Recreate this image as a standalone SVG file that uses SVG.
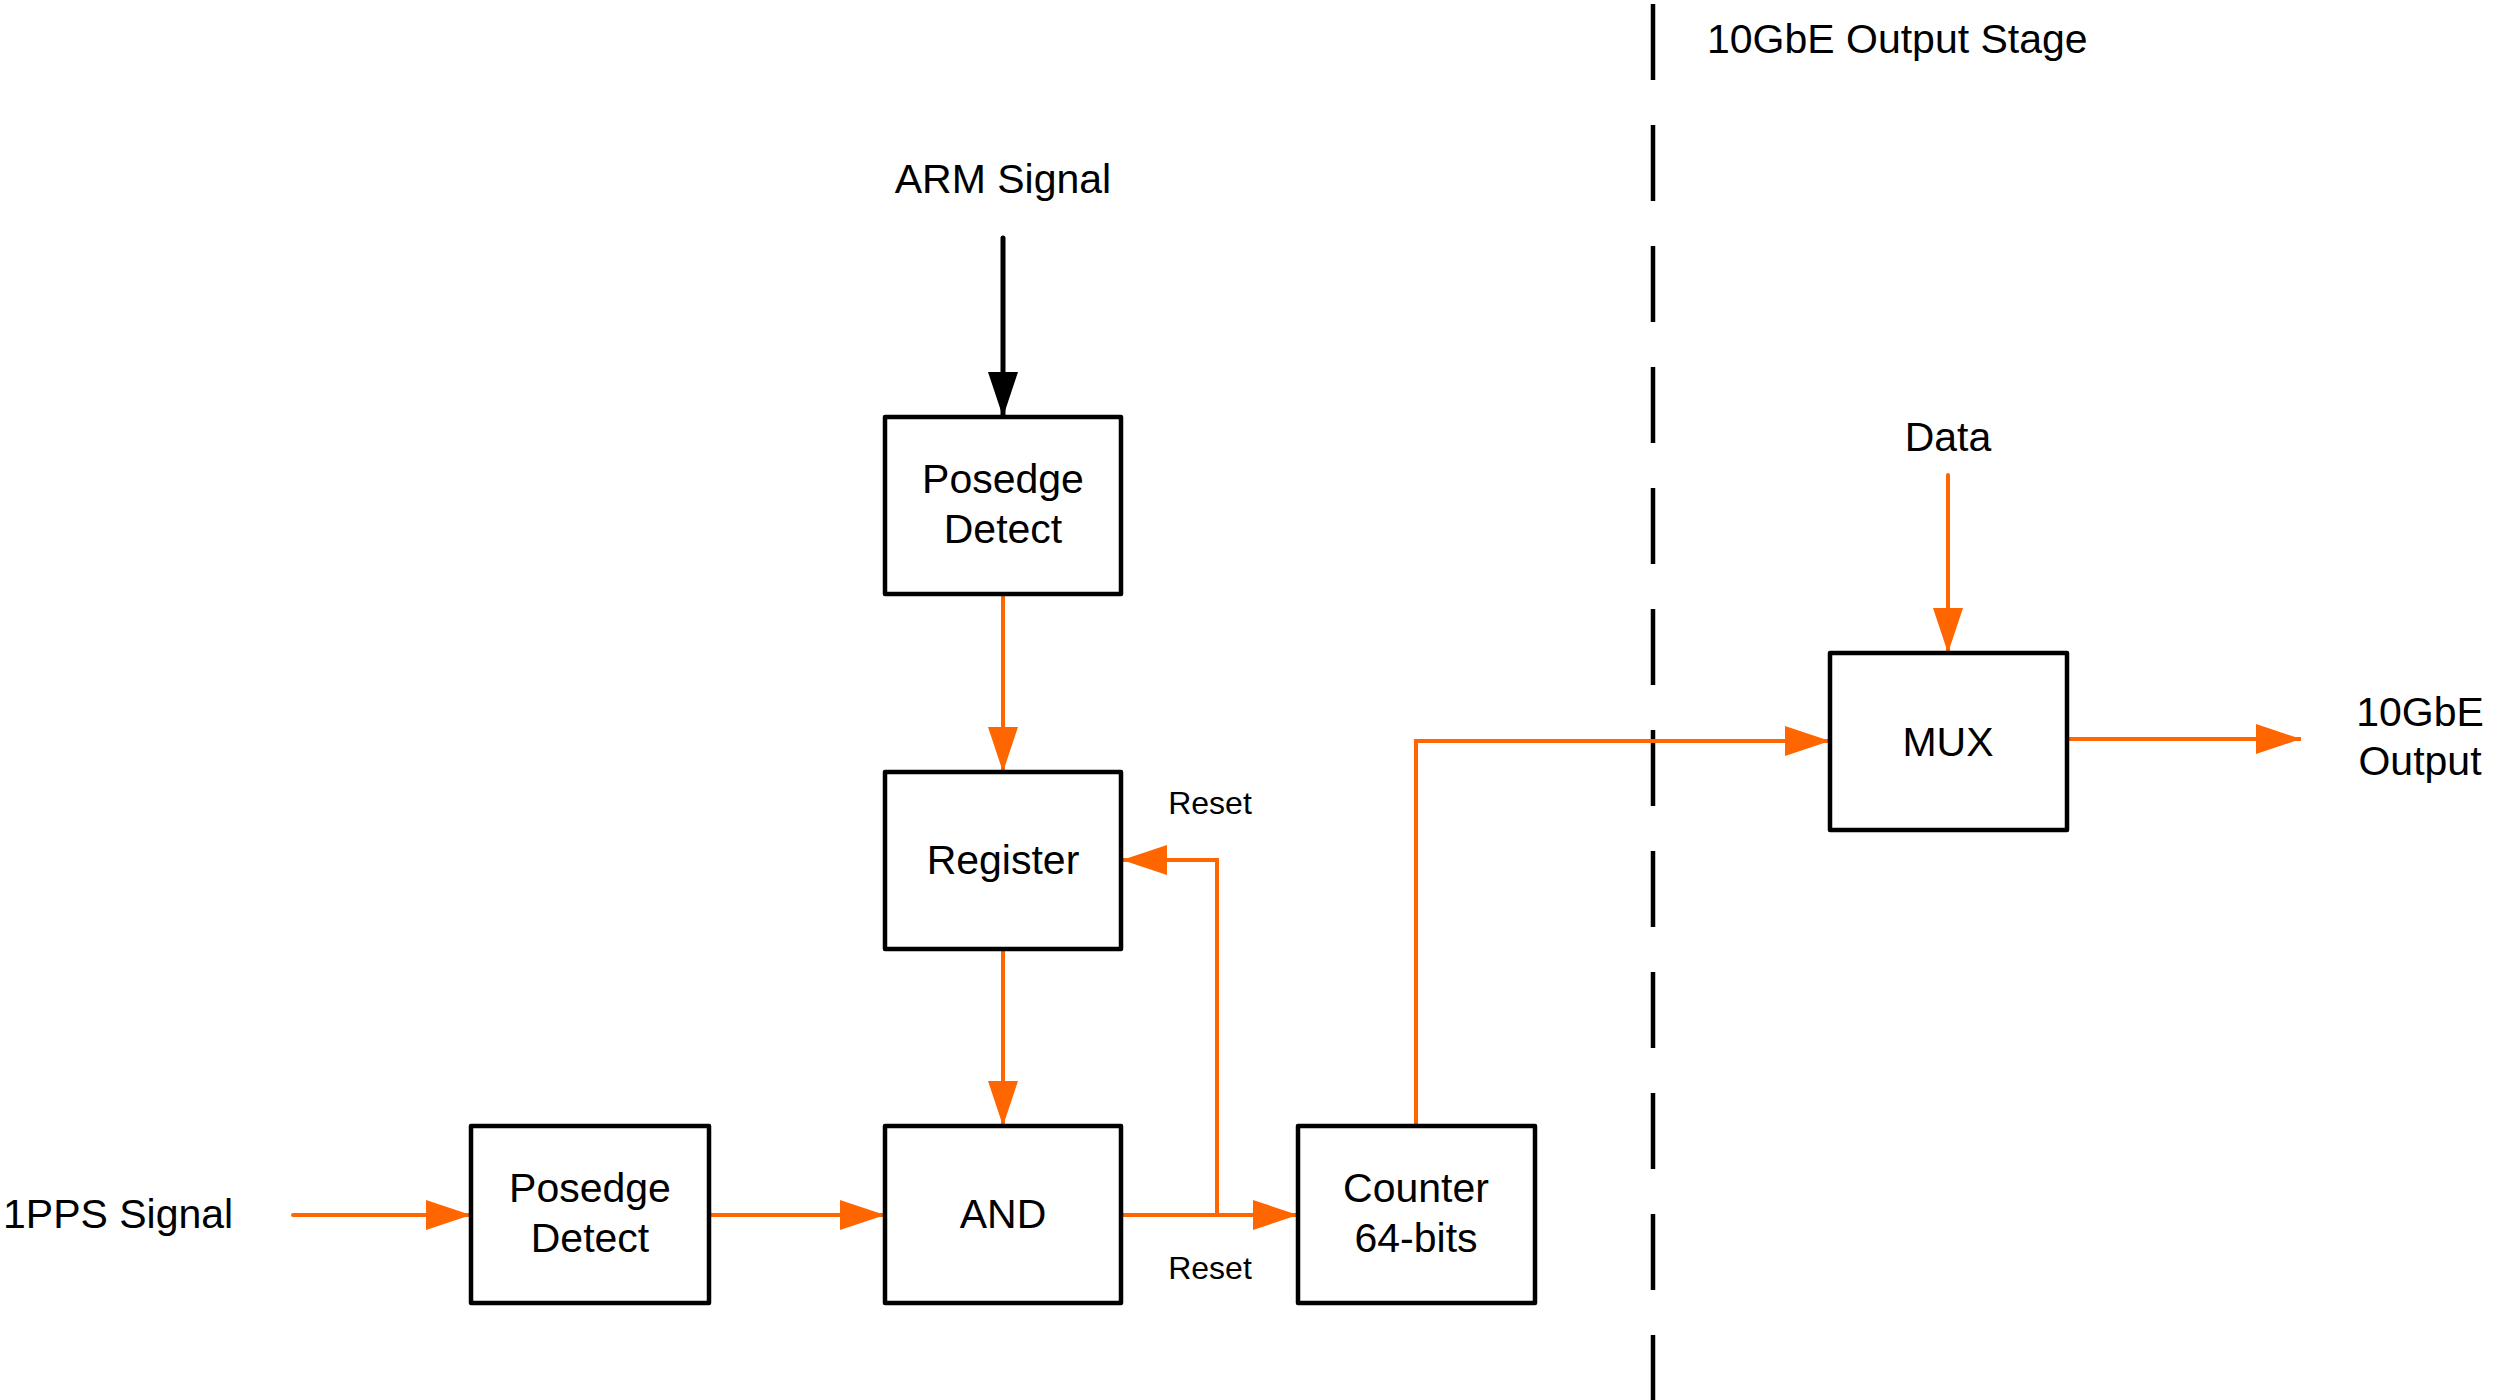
<svg xmlns="http://www.w3.org/2000/svg" width="2497" height="1400" viewBox="0 0 2497 1400">
<style>
.box{fill:#fff;stroke:#000;stroke-width:4.5;stroke-linejoin:round}
.t{font-family:"Liberation Sans",Arial,sans-serif;font-size:41px;fill:#000}
.s{font-family:"Liberation Sans",Arial,sans-serif;font-size:32px;fill:#000}
.o{fill:none;stroke:#FF6600;stroke-width:4}
.k{fill:none;stroke:#000;stroke-width:5;stroke-linecap:round}
</style>
<defs>
<marker id="ao" viewBox="0 0 45 30" refX="45" refY="15" markerWidth="45" markerHeight="30" markerUnits="userSpaceOnUse" orient="auto"><path d="M0,0 L45,15 L0,30 z" fill="#FF6600"/></marker>
<marker id="ak" viewBox="0 0 45 30" refX="45" refY="15" markerWidth="45" markerHeight="30" markerUnits="userSpaceOnUse" orient="auto"><path d="M0,0 L45,15 L0,30 z" fill="#000"/></marker>
</defs>
<rect width="2497" height="1400" fill="#fff"/>
<line x1="1653" y1="4" x2="1653" y2="1400" stroke="#000" stroke-width="4.5" stroke-dasharray="76 45" stroke-linecap="butt"/>
<text class="t" x="1707" y="53">10GbE Output Stage</text>
<text class="t" x="1003" y="193" text-anchor="middle">ARM Signal</text>
<text class="t" x="1948" y="451" text-anchor="middle">Data</text>
<text class="t" x="3" y="1228">1PPS Signal</text>
<text class="t" x="2420" y="726" text-anchor="middle">10GbE</text>
<text class="t" x="2420" y="775" text-anchor="middle">Output</text>
<text class="s" x="1210" y="814" text-anchor="middle">Reset</text>
<text class="s" x="1210" y="1279" text-anchor="middle">Reset</text>
<g id="connectors">
<line class="k" x1="1003" y1="238" x2="1003" y2="417" marker-end="url(#ak)"/>
<line class="o" x1="1003" y1="594" x2="1003" y2="772" marker-end="url(#ao)"/>
<line class="o" x1="1003" y1="949" x2="1003" y2="1126" marker-end="url(#ao)"/>
<line class="o" x1="293" y1="1215" x2="471" y2="1215" stroke-linecap="round" marker-end="url(#ao)"/>
<line class="o" x1="709" y1="1215" x2="885" y2="1215" marker-end="url(#ao)"/>
<line class="o" x1="1121" y1="1215" x2="1298" y2="1215" marker-end="url(#ao)"/>
<polyline class="o" points="1217,1215 1217,860 1122,860" marker-end="url(#ao)"/>
<polyline class="o" points="1416,1126 1416,741 1830,741" marker-end="url(#ao)"/>
<line class="o" x1="1948" y1="475" x2="1948" y2="653" stroke-linecap="round" marker-end="url(#ao)"/>
<line class="o" x1="2067" y1="739" x2="2301" y2="739" marker-end="url(#ao)"/>
</g>
<g id="posedge_arm">
<rect class="box" x="885" y="417" width="236" height="177"/>
<text class="t" x="1003" y="493" text-anchor="middle">Posedge</text>
<text class="t" x="1003" y="543" text-anchor="middle">Detect</text>
</g>
<g id="register">
<rect class="box" x="885" y="772" width="236" height="177"/>
<text class="t" x="1003" y="874" text-anchor="middle">Register</text>
</g>
<g id="and">
<rect class="box" x="885" y="1126" width="236" height="177"/>
<text class="t" x="1003" y="1228" text-anchor="middle">AND</text>
</g>
<g id="posedge_pps">
<rect class="box" x="471" y="1126" width="238" height="177"/>
<text class="t" x="590" y="1202" text-anchor="middle">Posedge</text>
<text class="t" x="590" y="1252" text-anchor="middle">Detect</text>
</g>
<g id="counter">
<rect class="box" x="1298" y="1126" width="237" height="177"/>
<text class="t" x="1416" y="1202" text-anchor="middle">Counter</text>
<text class="t" x="1416" y="1252" text-anchor="middle">64-bits</text>
</g>
<g id="mux">
<rect class="box" x="1830" y="653" width="237" height="177"/>
<text class="t" x="1948" y="756" text-anchor="middle">MUX</text>
</g>
</svg>
